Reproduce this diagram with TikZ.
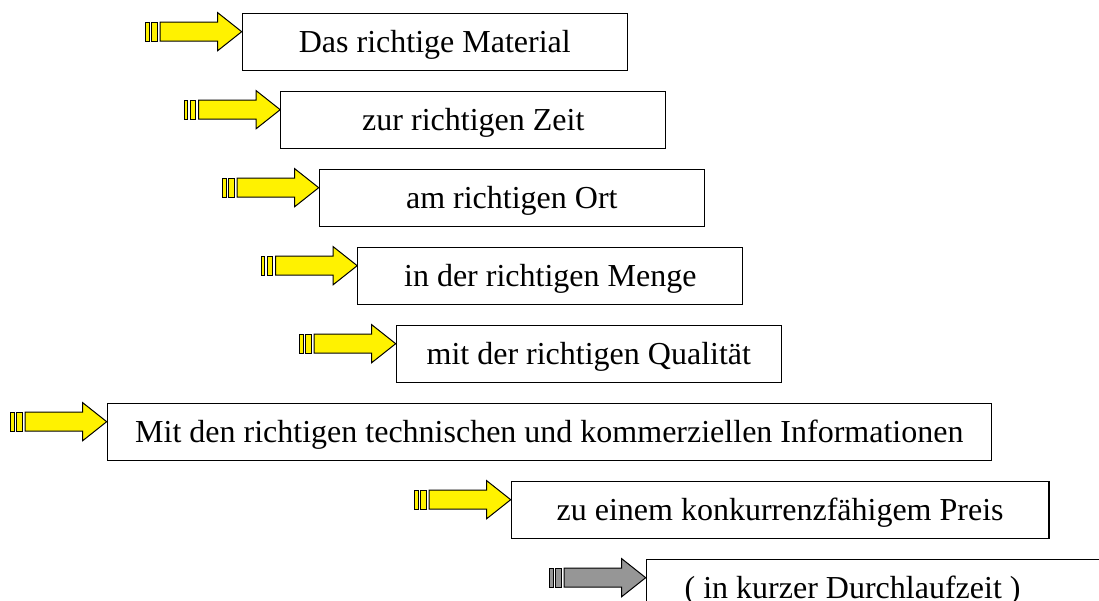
\documentclass[tikz,border=0pt]{standalone}
\usepackage{fontspec}
\setmainfont{Liberation Serif}
\usetikzlibrary{positioning}
\definecolor{arrowgray}{RGB}{150,150,150}

\tikzset{
 box/.style={draw, rectangle, line width=1.2pt, minimum width=385pt, minimum height=57.4pt,
  inner sep=0pt, text height=21pt, text depth=0pt, font=\fontsize{32}{38}\selectfont},
 arrowbody/.style={draw=black, line width=1pt, fill=#1},
}

\begin{document}
\begin{tikzpicture}[x=1pt,y=-1pt]
 \useasboundingbox (0,0) rectangle (1099,601);
 \clip (0,0) rectangle (1099,601);
 \node [box, anchor=north west] (b1) at (241.7,12.7) {Das richtige Material};
 \node [box, below right=19.4pt and 38.5pt of b1.south west] (b2) {zur richtigen Zeit};
 \node [box, below right=19.4pt and 38.5pt of b2.south west] (b3) {am richtigen Ort};
 \node [box, below right=19.4pt and 38.5pt of b3.south west] (b4) {in der richtigen Menge};
 \node [box, below right=19.4pt and 38.5pt of b4.south west] (b5) {mit der richtigen Qualität};
 \node [box, minimum width=884pt, below right=19.4pt and -289pt of b5.south west] (b6) {Mit den richtigen technischen und kommerziellen Informationen};
 \node [box, minimum width=537.6pt, below right=19.4pt and 404pt of b6.south west] (b7) {zu einem konkurrenzfähigem Preis};
 \node [box, minimum width=474pt, below right=19.4pt and 135pt of b7.south west] (b8) {( in kurzer Durchlaufzeit )\hspace*{61.4pt}};
 % striped arrows
 \foreach \b/\c in {b1/yellow,b2/yellow,b3/yellow,b4/yellow,b5/yellow,b6/yellow,b7/yellow,b8/arrowgray}
 {
  \begin{scope}[shift={(\b.north west)}]
   \draw [arrowbody=\c] (0,19) -- (-24,0) -- (-24,9.5) -- (-81.7,9.5) -- (-81.7,28.5) -- (-24,28.5) -- (-24,38) -- cycle;
   \draw [arrowbody=\c] (-84.4,9.5) rectangle (-90,28.5);
   \draw [arrowbody=\c] (-92.4,9.5) rectangle (-96,28.5);
  \end{scope}
 }
\end{tikzpicture}
\end{document}
